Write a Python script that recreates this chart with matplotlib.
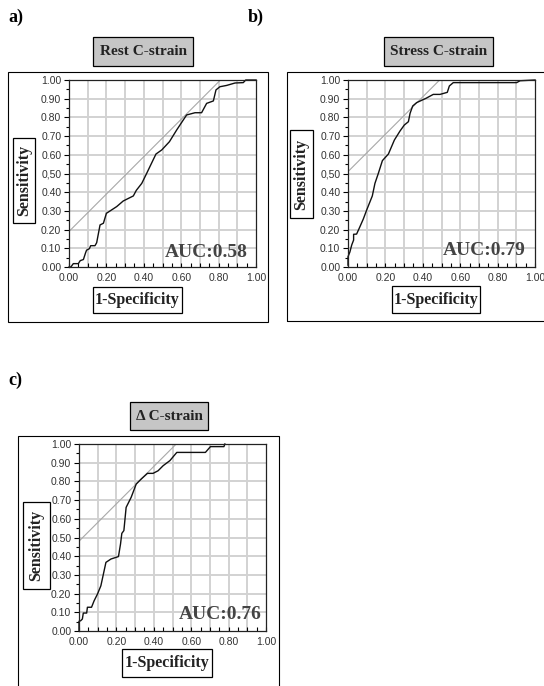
import numpy as np
import matplotlib
matplotlib.use("Agg")
import matplotlib.pyplot as plt
from matplotlib.patches import Rectangle
from matplotlib.ticker import MultipleLocator, FixedLocator

W, H = 544, 686

# ---------- data ----------
rest_fpr = [0.0, 0.01, 0.023, 0.05, 0.06, 0.077, 0.089, 0.094, 0.109, 0.116,
            0.139, 0.148, 0.166, 0.184, 0.2, 0.255, 0.29, 0.344, 0.36, 0.389,
            0.415, 0.465, 0.496, 0.537, 0.576, 0.611, 0.629, 0.674, 0.709,
            0.736, 0.772, 0.786, 0.807, 0.843, 0.888, 0.932, 0.945, 1.0]
rest_tpr = [0.0, 0.0, 0.018, 0.018, 0.034, 0.04, 0.077, 0.09, 0.098, 0.114,
            0.114, 0.13, 0.225, 0.234, 0.287, 0.323, 0.353, 0.38, 0.41, 0.447,
            0.5, 0.604, 0.626, 0.67, 0.733, 0.786, 0.813, 0.825, 0.825,
            0.875, 0.888, 0.947, 0.964, 0.971, 0.984, 0.986, 1.0, 1.0]

stress_fpr = [0.0, 0.0, 0.01, 0.02, 0.03, 0.03, 0.046, 0.064, 0.082, 0.1,
              0.13, 0.144, 0.162, 0.184, 0.216, 0.248, 0.278, 0.301, 0.323,
              0.332, 0.346, 0.367, 0.417, 0.456, 0.492, 0.531, 0.542, 0.563,
              0.902, 0.92, 1.0]
stress_tpr = [0.01, 0.055, 0.08, 0.118, 0.144, 0.175, 0.176, 0.216, 0.257,
              0.305, 0.38, 0.447, 0.5, 0.569, 0.604, 0.679, 0.727, 0.759,
              0.777, 0.822, 0.861, 0.879, 0.902, 0.923, 0.923, 0.934, 0.968,
              0.986, 0.986, 0.996, 1.0]

delta_fpr = [0.0, 0.0, 0.009, 0.018, 0.023, 0.041, 0.045, 0.067, 0.081, 0.099,
             0.117, 0.144, 0.171, 0.211, 0.222, 0.229, 0.24, 0.252, 0.279,
             0.306, 0.333, 0.366, 0.396, 0.423, 0.45, 0.486, 0.523, 0.676,
             0.703, 0.775, 0.78]
delta_tpr = [0.0, 0.052, 0.055, 0.064, 0.096, 0.096, 0.127, 0.127, 0.162,
             0.198, 0.242, 0.367, 0.385, 0.398, 0.465, 0.522, 0.537, 0.661,
             0.715, 0.786, 0.813, 0.843, 0.843, 0.857, 0.884, 0.911, 0.955,
             0.955, 0.986, 0.986, 1.0]

titles = ["Rest C-strain", "Stress C-strain", "\u0394 C-strain"]
auc_labels = ["AUC:0.58", "AUC:0.79", "AUC:0.76"]
tangent_intercepts = [0.19, 0.51, 0.48]
panel_letters = ["a)", "b)", "c)"]

xtick_vals = [0.0, 0.2, 0.4, 0.6, 0.8, 1.0]
xtick_labels = ["0.00", "0.20", "0.40", "0.60", "0.80", "1.00"]
ytick_vals = [0.0, 0.1, 0.2, 0.3, 0.4, 0.5, 0.6, 0.7, 0.8, 0.9, 1.0]
ytick_labels_ab = ["0.00", "0.10", "0.20", "0.30", "0.40", "0,50",
                   "0.60", "0.70", "0.80", "0.90", "1.00"]
ytick_labels_c = ["0.00", "0.10", "0.20", "0.30", "0.40", "0.50",
                  "0.60", "0.70", "0.80", "0.90", "1.00"]

SERIF = ["Liberation Serif", "DejaVu Serif"]
SANS = ["Liberation Sans", "DejaVu Sans"]


def fx(x):
    return x / W


def fy(y):
    return 1 - y / H


def px_box(fig, x0, y0, x1, y1, face="none", lw=0.8):
    r = Rectangle((fx(x0), fy(y1)), (x1 - x0) / W, (y1 - y0) / H,
                  transform=fig.transFigure, facecolor=face,
                  edgecolor="black", linewidth=lw, zorder=0)
    fig.add_artist(r)


def boxed_text(fig, x0, y0, x1, y1, text, face, rot=0, size=11.5):
    px_box(fig, x0, y0, x1, y1, face=face, lw=0.9)
    fig.text(fx((x0 + x1) / 2), fy((y0 + y1) / 2), text, rotation=rot,
             ha="center", va="center", fontsize=size, fontweight="bold",
             family=SERIF, color="#222222")


def roc_axes(fig, x0, y0, fpr, tpr, intercept, auc, auc_pos, ylabels):
    # x0, y0: pixel position of the (0, 0) corner; axes are 187 px square
    ax = fig.add_axes([fx(x0), fy(y0), 187 / W, 187 / H])
    ax.set_xlim(0, 1)
    ax.set_ylim(0, 1)
    for v in np.arange(0.1, 1.0, 0.1):
        ax.axvline(v, color="#d2d2d2", lw=1.4, zorder=0)
        ax.axhline(v, color="#d2d2d2", lw=1.4, zorder=0)
    xs = np.array([0, 1 - intercept])
    ax.plot(xs, xs + intercept, color="#a8a8a8", lw=0.8, zorder=1)
    ax.plot(fpr, tpr, color="#111111", lw=1.0, zorder=2, clip_on=False)
    ax.text(auc_pos[0], auc_pos[1], auc, ha="right", va="baseline",
            fontsize=14, fontweight="bold", family=SERIF, color="#444444")

    ax.xaxis.set_major_locator(FixedLocator(xtick_vals))
    ax.set_xticklabels(xtick_labels)
    ax.xaxis.set_minor_locator(MultipleLocator(0.05))
    ax.yaxis.set_major_locator(FixedLocator(ytick_vals))
    ax.set_yticklabels(ylabels)
    ax.yaxis.set_minor_locator(MultipleLocator(0.05))
    ax.tick_params(axis="x", which="both", direction="in", length=3,
                   width=0.8, pad=4)
    ax.tick_params(axis="y", which="major", direction="out", length=3.5,
                   width=0.8, pad=2)
    ax.tick_params(axis="y", which="minor", direction="out", length=2,
                   width=0.8)
    for lab in ax.get_xticklabels() + ax.get_yticklabels():
        lab.set_fontsize(7.5)
        lab.set_family(SANS)
        lab.set_color("#333333")
    for s in ax.spines.values():
        s.set_linewidth(0.9)
        s.set_color("#222222")
    return ax


fig = plt.figure(figsize=(W / 100, H / 100), dpi=100)

# panel letters
fig.text(fx(8), fy(17), panel_letters[0], ha="left", va="center",
         fontsize=13, fontweight="bold", family=SERIF)
fig.text(fx(248), fy(17), panel_letters[1], ha="left", va="center",
         fontsize=13, fontweight="bold", family=SERIF)
fig.text(fx(8), fy(380), panel_letters[2], ha="left", va="center",
         fontsize=13, fontweight="bold", family=SERIF)

# ---------- a) ----------
px_box(fig, 8, 72, 268, 322)
roc_axes(fig, 69, 267, rest_fpr, rest_tpr, tangent_intercepts[0],
         auc_labels[0], (0.955, 0.055), ytick_labels_ab)
boxed_text(fig, 93, 37, 193, 66, titles[0], "#c6c6c6", size=11)
boxed_text(fig, 13, 138, 35, 223, "Sensitivity", "white", rot=90)
boxed_text(fig, 93, 287, 182, 313, "1-Specificity", "white")

# ---------- b) ----------
px_box(fig, 287, 72, 548, 321)
roc_axes(fig, 348, 267, stress_fpr, stress_tpr, tangent_intercepts[1],
         auc_labels[1], (0.95, 0.064), ytick_labels_ab)
boxed_text(fig, 384, 37, 493, 66, titles[1], "#c6c6c6", size=11)
boxed_text(fig, 290, 130, 313, 218, "Sensitivity", "white", rot=90)
boxed_text(fig, 392, 286, 480, 313, "1-Specificity", "white")

# ---------- c) ----------
px_box(fig, 18, 436, 279, 690)
roc_axes(fig, 79, 631, delta_fpr, delta_tpr, tangent_intercepts[2],
         auc_labels[2], (0.975, 0.064), ytick_labels_c)
boxed_text(fig, 130, 402, 208, 430, titles[2], "#c6c6c6", size=11)
boxed_text(fig, 23, 502, 50, 589, "Sensitivity", "white", rot=90)
boxed_text(fig, 122, 649, 212, 677, "1-Specificity", "white")

fig.savefig("out.png", dpi=100)
plt.close(fig)
